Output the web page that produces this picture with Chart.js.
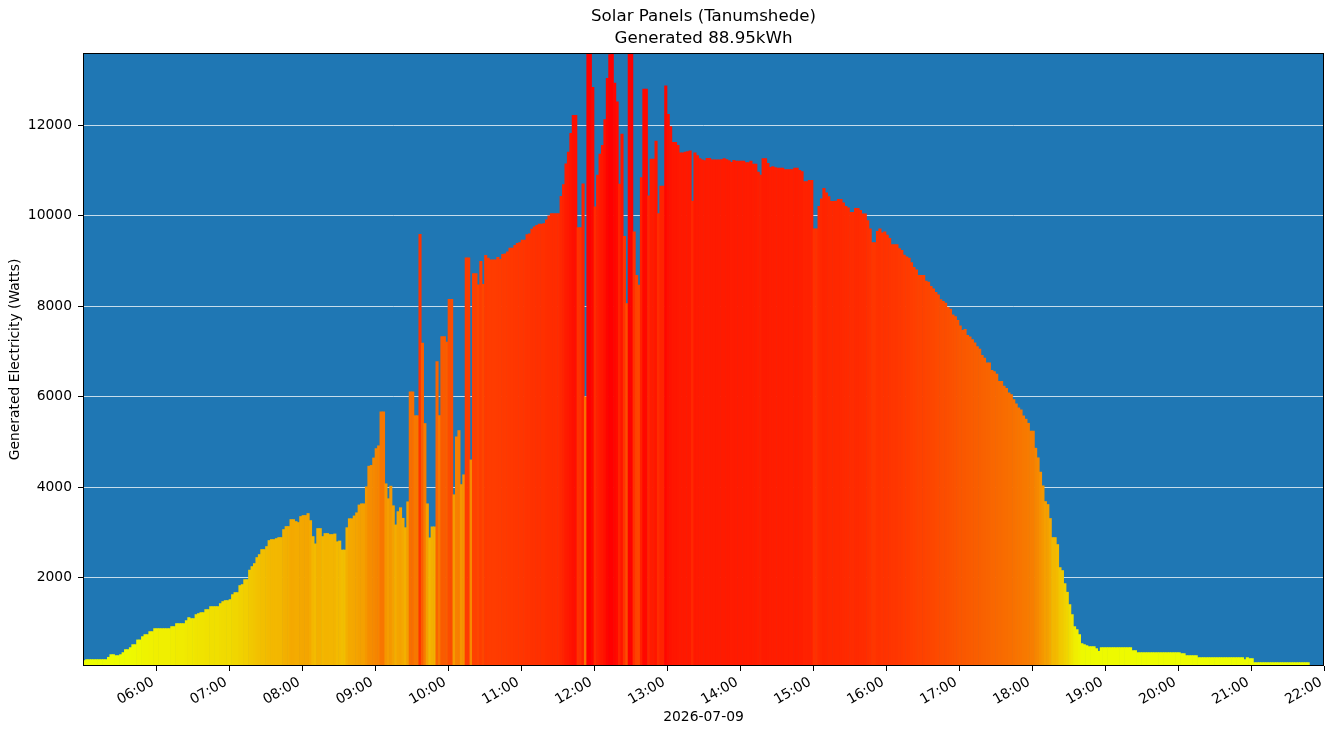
<!DOCTYPE html>
<html><head><meta charset="utf-8">
<script src="https://cdn.jsdelivr.net/npm/chart.js@4.4.0/dist/chart.umd.min.js"></script>
<style>html,body{margin:0;padding:0;background:#fff;}canvas{display:block;}</style>
</head><body>
<canvas id="c" width="1333" height="736"></canvas>
<script>
const titleLines = ['Solar Panels (Tanumshede)', 'Generated 88.95kWh'];
const dateLabel = '2026-07-09';
const yAxisLabel = 'Generated Electricity (Watts)';
const startMinute = 300;   // 05:00
const stepMinutes = 2;
const watts = [
170,192,192,192,192,192,192,192,192,192,
243,302,302,280,280,302,347,413,413,457,
523,523,627,627,700,745,745,811,811,877,
877,877,877,877,877,877,922,922,988,988,
988,988,1054,1121,1099,1099,1187,1209,1231,1231,
1298,1298,1364,1364,1364,1364,1430,1475,1497,1497,
1519,1629,1674,1674,1829,1851,1961,1961,2170,2249,
2315,2448,2514,2625,2625,2691,2824,2846,2846,2868,
2890,2890,3067,3134,3134,3288,3288,3244,3222,3355,
3377,3377,3421,3266,2912,2750,3089,3089,2912,2979,
2979,2957,2957,2970,2797,2814,2615,2615,3108,3307,
3307,3368,3437,3610,3636,3636,4009,4467,4485,4649,
4857,4918,5671,5671,4078,3749,4026,3593,3169,3463,
3550,3316,3108,3680,6113,6113,5584,5584,9593,7186,
5411,3636,2883,3126,3126,6779,5584,7333,7333,7212,
8156,8156,3836,5117,5255,4061,4277,9074,9074,4606,
8727,8727,8476,8996,8485,9126,9065,9030,9030,9030,
9082,9039,9152,9160,9204,9290,9290,9351,9394,9411,
9463,9463,9584,9602,9706,9758,9792,9818,9818,9827,
9913,10000,10052,10052,10052,10052,10433,10693,11151,11411,
11827,12225,12225,9740,9740,10710,6000,13600,13600,12840,
10199,10900,11368,11558,12130,13039,13567,13600,12935,12520,
10701,11810,9550,8061,13600,13600,9645,8684,8468,10849,
12805,12805,10441,11255,11255,11653,10052,10658,10658,12874,
12242,11974,11628,11628,11558,11394,11394,11411,11420,11437,
10329,11394,11333,11264,11238,11220,11272,11272,11238,11238,
11238,11238,11247,11264,11247,11220,11186,11230,11212,11212,
11212,11212,11177,11177,11212,11143,11143,10970,10900,11264,
11264,11160,11074,11091,11065,11056,11056,11056,11022,11022,
11022,11022,11056,11056,11004,10978,10757,10757,10787,10787,
9714,9714,10213,10379,10606,10508,10424,10319,10319,10326,
10364,10364,10289,10213,10175,10077,10077,10168,10168,10122,
10047,10047,9896,9714,9412,9412,9661,9714,9624,9646,
9578,9503,9367,9367,9367,9276,9239,9133,9095,9065,
8967,8861,8808,8687,8687,8687,8559,8536,8445,8385,
8309,8257,8151,8113,8075,7977,7939,7811,7773,7690,
7569,7471,7493,7358,7327,7267,7191,7108,7055,6919,
6859,6753,6753,6587,6557,6504,6345,6345,6240,6187,
6089,6051,5938,5847,5756,5711,5582,5507,5416,5243,
5243,4865,4653,4336,4033,3686,3620,3311,2890,2890,
2735,2226,2160,1872,1681,1408,1187,921,855,745,
546,523,501,479,479,479,435,376,457,457,
457,457,457,457,457,457,457,457,457,457,
457,391,391,346,346,346,346,346,346,346,
346,346,346,346,346,346,346,346,346,346,
346,324,324,280,280,280,280,280,236,236,
236,236,236,236,236,236,236,236,236,236,
236,236,236,236,236,236,236,192,236,214,
214,125,125,125,125,125,125,125,125,125,
125,125,125,125,125,125,125,125,125,125,
125,125,125,125
];
const xTickValues = [360,420,480,540,600,660,720,780,840,900,960,1020,1080,1140,1200,1260,1320];
const xTickLabels = ['06:00','07:00','08:00','09:00','10:00','11:00','12:00','13:00','14:00','15:00','16:00','17:00','18:00','19:00','20:00','21:00','22:00'];
const yTickValues = [2000,4000,6000,8000,10000,12000];

// colour ramp (value -> [r,g]) approximating the yellow->red map
const colorStops = [
  [0,236,255],[500,238,250],[900,240,238],[1500,240,218],[2200,241,200],
  [2900,243,183],[3400,244,165],[4500,246,140],[6000,248,112],[7500,250,88],
  [9000,255,60],[10000,255,45],[11000,255,30],[12000,255,18],[13000,255,5],[13600,255,0]
];
function colorFor(v) {
  if (v <= colorStops[0][0]) return 'rgb(' + colorStops[0][1] + ',' + colorStops[0][2] + ',0)';
  for (let i = 1; i < colorStops.length; i++) {
    const a = colorStops[i - 1], b = colorStops[i];
    if (v <= b[0]) {
      const f = (v - a[0]) / (b[0] - a[0]);
      const r = Math.round(a[1] + (b[1] - a[1]) * f);
      const g = Math.round(a[2] + (b[2] - a[2]) * f);
      return 'rgb(' + r + ',' + g + ',0)';
    }
  }
  return 'rgb(255,0,0)';
}

const points = watts.map((w, i) => ({x: startMinute + stepMinutes * i + stepMinutes / 2, y: w}));

const frame = {
  id: 'plotFrame',
  beforeDraw(chart) {
    const {ctx, chartArea: a} = chart;
    ctx.save();
    ctx.fillStyle = '#1f77b4';
    ctx.fillRect(a.left, a.top, a.right - a.left, a.bottom - a.top);
    ctx.restore();
  },
  afterDraw(chart) {
    const {ctx, chartArea: a} = chart;
    ctx.save();
    ctx.strokeStyle = '#000';
    ctx.lineWidth = 1;
    ctx.strokeRect(a.left + 0.5, a.top + 0.5, a.right - a.left - 1, a.bottom - a.top - 1);
    ctx.restore();
  }
};

Chart.defaults.font.family = "'DejaVu Sans', sans-serif";
Chart.defaults.color = '#000';

new Chart(document.getElementById('c'), {
  type: 'bar',
  data: {
    datasets: [{
      data: points,
      backgroundColor: watts.map(colorFor),
      borderWidth: 0,
      barPercentage: 1,
      categoryPercentage: 1
    }]
  },
  options: {
    responsive: false,
    animation: false,
    devicePixelRatio: 1,
    layout: {padding: {left: 0, right: 9, top: 0, bottom: 0}},
    plugins: {
      legend: {display: false},
      tooltip: {enabled: false},
      title: {
        display: true, text: titleLines, fullSize: false, color: '#000',
        font: {size: 16.67, weight: 'normal', lineHeight: 1.32},
        padding: {top: 6, bottom: 3}
      }
    },
    scales: {
      x: {
        type: 'linear', min: 300, max: 1320, offset: false,
        afterBuildTicks: s => { s.ticks = xTickValues.map(v => ({value: v})); },
        afterFit: s => { s.height = 70; s.paddingLeft = 0; s.paddingRight = 0; },
        grid: {drawOnChartArea: false, drawTicks: true, tickLength: 5, tickColor: '#000', tickWidth: 1, offset: false},
        border: {display: false},
        ticks: {
          autoSkip: false, minRotation: 30, maxRotation: 30, padding: 3, labelOffset: -3, color: '#000',
          font: {size: 13.89},
          callback: v => xTickLabels[xTickValues.indexOf(v)]
        },
        title: {display: true, text: dateLabel, color: '#000', font: {size: 13.89}, padding: {top: 0, bottom: 10}}
      },
      y: {
        min: 50, max: 13600, z: 1,
        afterBuildTicks: s => { s.ticks = yTickValues.map(v => ({value: v})); },
        afterFit: s => { s.width = 83; s.paddingTop = 0; s.paddingBottom = 0; },
        grid: {color: 'rgba(255,255,255,0.75)', lineWidth: 1, tickColor: '#000', tickLength: 5, drawTicks: true},
        border: {display: false},
        ticks: {padding: 6, color: '#000', font: {size: 13.89}, callback: v => String(v)},
        title: {display: true, text: yAxisLabel, color: '#000', font: {size: 13.89}, padding: {top: 7, bottom: 0}}
      }
    }
  },
  plugins: [frame]
});
</script>
</body></html>
